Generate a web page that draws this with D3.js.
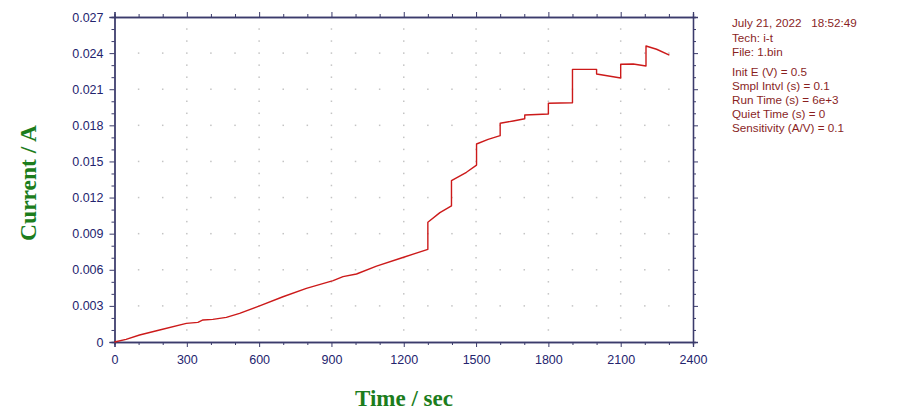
<!DOCTYPE html>
<html><head><meta charset="utf-8">
<script src="https://cdn.jsdelivr.net/npm/d3@7"></script>
<style>body{margin:0;background:#fff}svg{display:block}</style>
</head><body>
<svg id="chart" width="900" height="412"></svg>
<script>
// ---- data ----
const times = [0,48,104,187,298,346,367,408,464,519,602,699,796,907,948,1004,1087,1190,1300,
  1300,1350,1398,1398,1460,1502,1502,1550,1600,1600,1654,1702,1702,1800,1800,1900,1900,2000,2000,2100,2100,2152,2205,2205,2249,2302];
const current = [0,0.00022,0.00058,0.00100,0.00155,0.00163,0.00183,0.00188,0.00205,0.00238,0.00300,0.00376,0.00446,0.00510,0.00543,0.00565,0.00630,0.00698,0.00770,
  0.00995,0.01075,0.01130,0.01340,0.01410,0.01470,0.01645,0.01684,0.01714,0.01817,0.01836,0.01855,0.01886,0.01894,0.01983,0.01988,0.02265,0.02265,0.02226,0.02193,0.02307,0.02310,0.02293,0.02459,0.02432,0.02384];
const xTicks = [0,300,600,900,1200,1500,1800,2100,2400];
const yTicks = [0,0.003,0.006,0.009,0.012,0.015,0.018,0.021,0.024,0.027];
const yTickLabels = ["0","0.003","0.006","0.009","0.012","0.015","0.018","0.021","0.024","0.027"];
const infoLines = ["July 21, 2022   18:52:49","Tech: i-t","File: 1.bin","","Init E (V) = 0.5","Smpl Intvl (s) = 0.1","Run Time (s) = 6e+3","Quiet Time (s) = 0","Sensitivity (A/V) = 0.1"];
const xTitle = "Time / sec";
const yTitle = "Current / A";

// ---- layout ----
const L = 114.5, R = 693, T = 17, B = 342;
const svg = d3.select("#chart");
const x = d3.scaleLinear().domain([0,2400]).range([L,R]);
const y = d3.scaleLinear().domain([0,0.027]).range([B,T]);
const frame = "#3b3b6b", labelCol = "#24246e", dotCol = "#c4c4c4";

// grid dots
const minorX = d3.range(100,2400,100);
const minorY = d3.range(1,27).map(d=>d/1000);
const dots = [];
yTicks.slice(1,-1).forEach(v=>minorX.forEach(t=>dots.push([t,v])));
xTicks.slice(1,-1).forEach(t=>minorY.forEach(v=>{ if(!yTicks.some(k=>Math.abs(k-v)<1e-9)) dots.push([t,v]); }));
svg.append("g").selectAll("rect").data(dots).join("rect")
  .attr("x",d=>x(d[0])-0.75).attr("y",d=>y(d[1])-0.75).attr("width",1.5).attr("height",1.5).attr("fill",dotCol);

// axes
function styleAxis(g){ g.selectAll("path,line").attr("stroke",frame); g.select(".domain").attr("stroke-width",1.3); }
const allX = d3.range(0,2401,100), allY = d3.range(0,28).map(d=>d/1000);
const major = (t)=> t%300===0;
// minor ticks
svg.append("g").attr("transform",`translate(0,${B})`).call(d3.axisBottom(x).tickValues(allX.filter(t=>!major(t))).tickSize(3).tickFormat("")).call(styleAxis);
svg.append("g").attr("transform",`translate(0,${T})`).call(d3.axisTop(x).tickValues(allX.filter(t=>!major(t))).tickSize(3).tickFormat("")).call(styleAxis);
svg.append("g").attr("transform",`translate(${L},0)`).call(d3.axisLeft(y).tickValues(allY.filter((v,i)=>i%3)).tickSize(3).tickFormat("")).call(styleAxis);
svg.append("g").attr("transform",`translate(${R},0)`).call(d3.axisRight(y).tickValues(allY.filter((v,i)=>i%3)).tickSize(3).tickFormat("")).call(styleAxis);
// major ticks with labels
const gx = svg.append("g").attr("transform",`translate(0,${B})`).call(d3.axisBottom(x).tickValues(xTicks).tickSize(5).tickPadding(8).tickFormat(d3.format("d"))).call(styleAxis);
svg.append("g").attr("transform",`translate(0,${T})`).call(d3.axisTop(x).tickValues(xTicks).tickSize(5).tickFormat("")).call(styleAxis);
const gy = svg.append("g").attr("transform",`translate(${L},0)`).call(d3.axisLeft(y).tickValues(yTicks).tickSize(5).tickPadding(6).tickFormat((d,i)=>yTickLabels[i])).call(styleAxis);
svg.append("g").attr("transform",`translate(${R},0)`).call(d3.axisRight(y).tickValues(yTicks).tickSize(5).tickFormat("")).call(styleAxis);
[gx,gy].forEach(g=>g.selectAll("text").attr("fill",labelCol).attr("font-family","Liberation Sans, Arial, sans-serif").attr("font-size","12.5px"));

// line
const line = d3.line().x((d,i)=>x(times[i])).y((d,i)=>y(current[i]));
svg.append("path").datum(current).attr("d",line).attr("fill","none").attr("stroke","#cc1a1a").attr("stroke-width",1.4).attr("stroke-linejoin","round");

// titles
svg.append("text").attr("x",404).attr("y",406).attr("text-anchor","middle")
  .attr("font-family","Liberation Serif, Times New Roman, serif").attr("font-weight","bold").attr("font-size","23px").attr("fill","#1c7d1c").text(xTitle);
svg.append("text").attr("transform",`translate(36,183) rotate(-90)`).attr("text-anchor","middle")
  .attr("font-family","Liberation Serif, Times New Roman, serif").attr("font-weight","bold").attr("font-size","23.5px").attr("fill","#1c7d1c").text(yTitle);

// info block
const info = svg.append("g").attr("font-family","Liberation Sans, Arial, sans-serif").attr("font-size","11.7px").attr("fill","#8a1f1f");
const ys = [27,42,56,null,76,90,104,118,132];
infoLines.forEach((s,i)=>{ if(s) info.append("text").attr("x",732).attr("y",ys[i]).attr("xml:space","preserve").style("white-space","pre").text(s); });
</script>
</body></html>
